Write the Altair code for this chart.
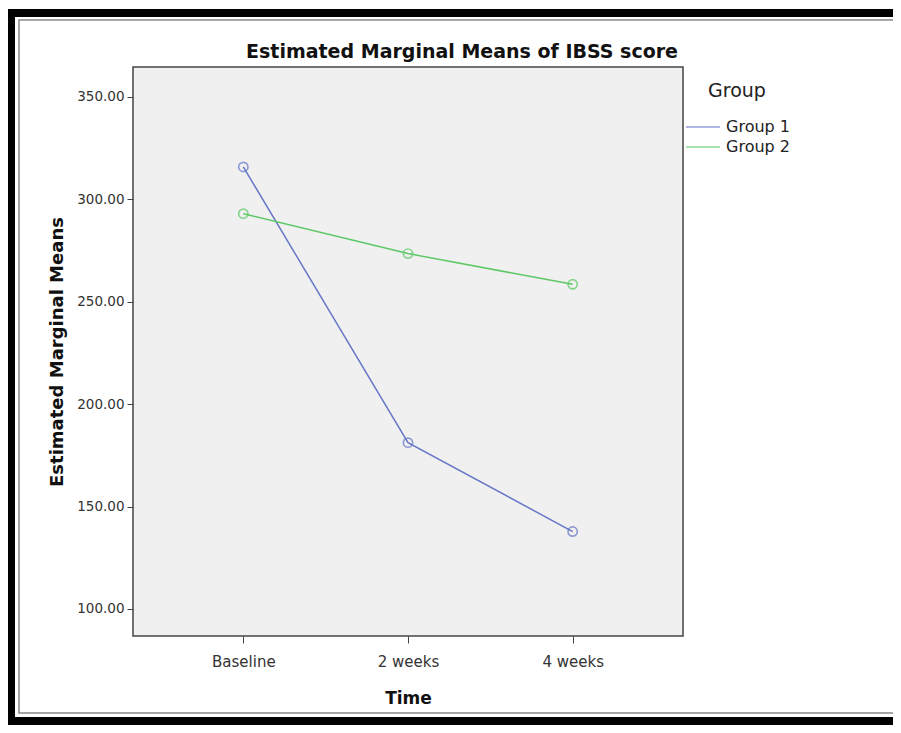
import altair as alt
import pandas as pd

times = ["Baseline", "2 weeks", "4 weeks"]
groups = ["Group 1", "Group 2"]
group1 = [315.8, 181.2, 137.8]
group2 = [293.0, 273.5, 258.5]
colors = ["#6677c6", "#5cc866"]
y_ticks = [100, 150, 200, 250, 300, 350]

rows = []
for t, v in zip(times, group1):
    rows.append({"Time": t, "Group": "Group 1", "Mean": v})
for t, v in zip(times, group2):
    rows.append({"Time": t, "Group": "Group 2", "Mean": v})
df = pd.DataFrame(rows)

FONT = "DejaVu Sans"

x_enc = alt.X(
    "Time:N",
    sort=times,
    scale=alt.Scale(type="point", padding=0.67),
    axis=alt.Axis(
        title="Time", labelAngle=0, labelFontSize=15, labelColor="#333",
        labelPadding=11, tickSize=7, tickColor="#444", domain=False,
        titleFontSize=17, titleFontWeight="bold", titleColor="#111",
        titlePadding=21, labelFont=FONT, titleFont=FONT,
    ),
)
y_enc = alt.Y(
    "Mean:Q",
    scale=alt.Scale(domain=[86.8, 364.6], nice=False, zero=False),
    axis=alt.Axis(
        title="Estimated Marginal Means", values=y_ticks, format=".2f",
        labelFontSize=13.5, labelColor="#333", labelPadding=3,
        tickSize=6, tickColor="#444", domain=False, grid=False,
        titleFontSize=18, titleFontWeight="bold", titleColor="#111",
        titlePadding=10, labelFont=FONT, titleFont=FONT,
    ),
)
color_enc = alt.Color(
    "Group:N",
    scale=alt.Scale(domain=groups, range=colors),
    legend=alt.Legend(
        title="Group", orient="none", legendX=552, legendY=15,
        titleFontSize=19, titleFontWeight="normal", titleColor="#222",
        titleAnchor="middle", titlePadding=16, titleFont=FONT,
        labelFontSize=16, labelColor="#222", labelFont=FONT, labelOffset=5,
        symbolType="stroke", symbolSize=1156, symbolStrokeWidth=1.5,
        clipHeight=20, rowPadding=0,
    ),
)

lines = alt.Chart(df).mark_line(strokeWidth=1.5).encode(x=x_enc, y=y_enc, color=color_enc)
points = alt.Chart(df).mark_point(filled=False, size=85, strokeWidth=1.7).encode(
    x=x_enc, y=y_enc, color=color_enc
)

one = pd.DataFrame({"k": [0]})
frame_top = alt.Chart(one).mark_rect(color="black").encode(
    x=alt.value(-125), x2=alt.value(770), y=alt.value(-58), y2=alt.value(-50)
)
frame_left = alt.Chart(one).mark_rect(color="black").encode(
    x=alt.value(-125), x2=alt.value(-118), y=alt.value(-58), y2=alt.value(658)
)
frame_bottom = alt.Chart(one).mark_rect(color="black").encode(
    x=alt.value(-125), x2=alt.value(770), y=alt.value(650), y2=alt.value(658)
)
frame_inner = alt.Chart(one).mark_rect(fill=None, stroke="#888", strokeWidth=1.5).encode(
    x=alt.value(-114), x2=alt.value(790), y=alt.value(-47), y2=alt.value(646)
)

chart = alt.layer(frame_top, frame_left, frame_bottom, frame_inner, lines, points).properties(
    width=550,
    height=569,
    background="white",
    autosize=alt.AutoSizeParams(type="none"),
    padding={"left": 125, "top": 59, "right": 210, "bottom": 89},
    title=alt.TitleParams(
        "Estimated Marginal Means of IBSS score", anchor="middle", dx=54,
        dy=60, offset=7, frame="group", fontSize=19, fontWeight="bold",
        font=FONT, color="#111",
    ),
).configure_view(fill="#f0f0f0", stroke="#444", strokeWidth=1.5)

chart.save("out.html", embed_options={"renderer": "svg", "actions": False})
